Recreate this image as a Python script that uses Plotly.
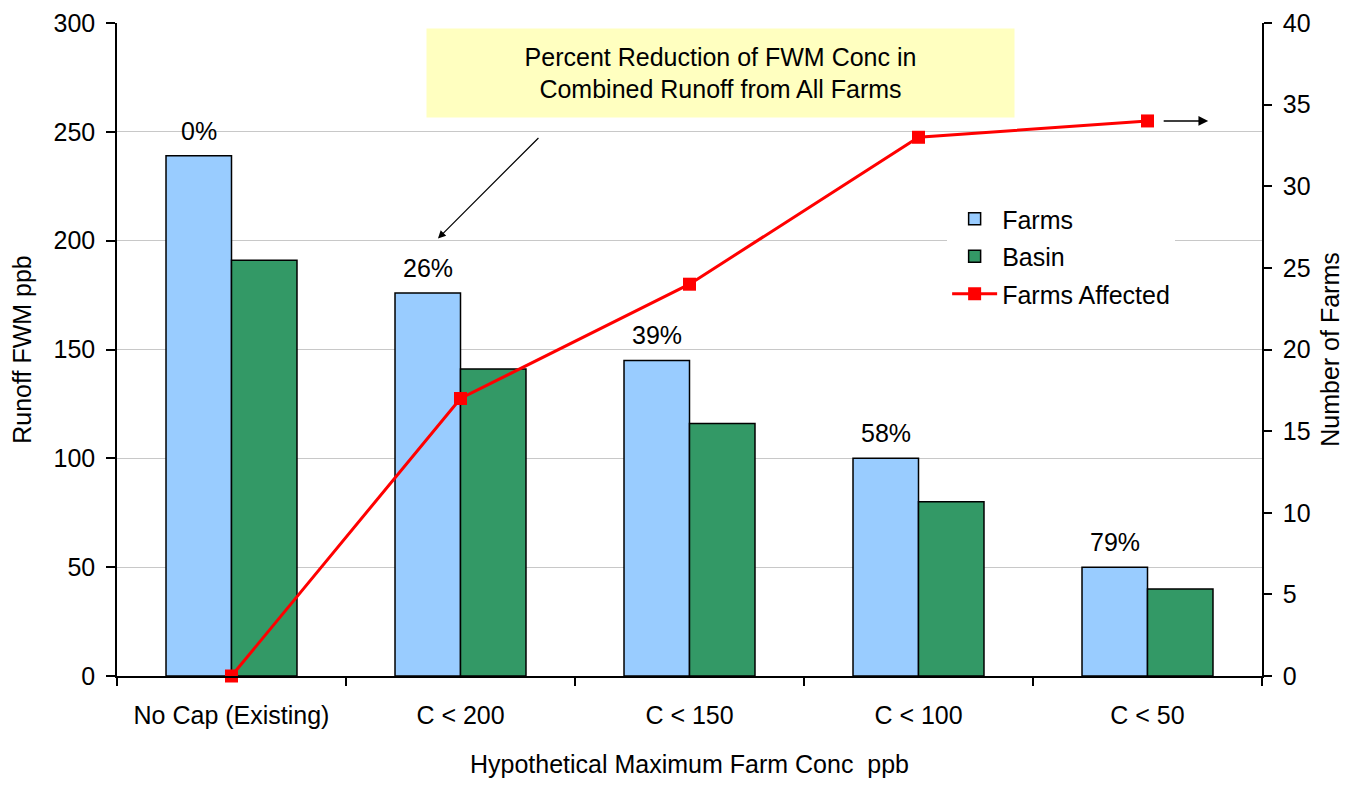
import plotly.graph_objects as go

categories = ["No Cap (Existing)", "C < 200", "C < 150", "C < 100", "C < 50"]
farms = [239, 176, 145, 100, 50]
basin = [191, 141, 116, 80, 40]
farms_affected = [0, 17, 24, 33, 34]
reduction = ["0%", "26%", "39%", "58%", "79%"]

FONT = "Arial, Liberation Sans, sans-serif"
FS = 25

fig = go.Figure()

fig.add_trace(go.Bar(
    x=categories, y=farms, name="Farms", legendgroup="a",
    marker=dict(color="#99ccff", line=dict(color="black", width=1.5)),
))
fig.add_trace(go.Bar(
    x=categories, y=basin, name="Basin", legendgroup="b",
    marker=dict(color="#339966", line=dict(color="black", width=1.5)),
))
fig.add_trace(go.Scatter(
    x=categories, y=farms_affected, name="Farms Affected", yaxis="y2",
    legendgroup="c", mode="lines+markers",
    line=dict(color="#ff0000", width=3),
    marker=dict(symbol="square", size=13, color="#ff0000"),
    cliponaxis=False,
))

# percent labels above the Farms bars
annotations = []
for cat, val, lab in zip(categories, farms, reduction):
    annotations.append(dict(
        x=cat, y=val, xref="x", yref="y", text=lab, showarrow=False,
        xshift=-33, yshift=25, font=dict(size=FS, color="black"),
    ))

# yellow call-out box
annotations.append(dict(
    x=0.527, y=0.9235, xref="paper", yref="paper",
    xanchor="center", yanchor="middle",
    text="Percent Reduction of FWM Conc in<br>Combined Runoff from All Farms",
    showarrow=False, bgcolor="#ffffc0", width=585, height=86,
    font=dict(size=FS, color="black"), align="center",
))
# arrow pointing to the percent labels
annotations.append(dict(
    x=0.2803, y=201, xref="paper", yref="y", text="",
    showarrow=True, arrowhead=2, arrowsize=1.3, arrowwidth=1.2,
    arrowcolor="black", ax=102, ay=-102,
))
# arrow pointing to the right axis
annotations.append(dict(
    x=0.953, y=34, xref="paper", yref="y2", text="",
    showarrow=True, arrowhead=2, arrowsize=1.3, arrowwidth=1.5,
    arrowcolor="black", ax=-46, ay=0,
))

fig.update_layout(
    width=1336, height=770,
    margin=dict(l=109, r=82, t=15, b=102),
    paper_bgcolor="white", plot_bgcolor="white",
    font=dict(family=FONT, size=FS, color="black"),
    barmode="group", bargap=0.428, bargroupgap=0,
    showlegend=True,
    legend=dict(
        x=0.725, y=0.735, xanchor="left", yanchor="top",
        bgcolor="white", font=dict(size=FS), traceorder="grouped",
        tracegroupgap=2, itemwidth=45,
    ),
    xaxis=dict(
        title=dict(text="Hypothetical Maximum Farm Conc  ppb", font=dict(size=FS), standoff=30),
        automargin=False,
        showline=True, linecolor="black", linewidth=1.5,
        ticks="outside", ticklen=8, tickcolor="black", tickwidth=1.5,
        tickson="boundaries", showgrid=False, ticklabelstandoff=16,
    ),
    yaxis=dict(
        title=dict(text="Runoff FWM ppb", font=dict(size=FS), standoff=16),
        automargin=False, ticklabeloverflow="allow",
        range=[0, 300], dtick=50,
        showline=True, linecolor="black", linewidth=1.5,
        ticks="outside", ticklen=9, tickcolor="black", tickwidth=1.5,
        showgrid=True, gridcolor="#c8c8c8", gridwidth=1, zeroline=False,
        ticklabelstandoff=6,
    ),
    yaxis2=dict(
        title=dict(text="Number of Farms", font=dict(size=FS), standoff=24),
        automargin=False, ticklabeloverflow="allow",
        range=[0, 40], dtick=5, overlaying="y", side="right",
        showline=True, linecolor="black", linewidth=1.5,
        ticks="outside", ticklen=8, tickcolor="black", tickwidth=1.5,
        showgrid=False, zeroline=False, ticklabelstandoff=6,
    ),
    annotations=annotations,
)

fig.write_html("out.html")
